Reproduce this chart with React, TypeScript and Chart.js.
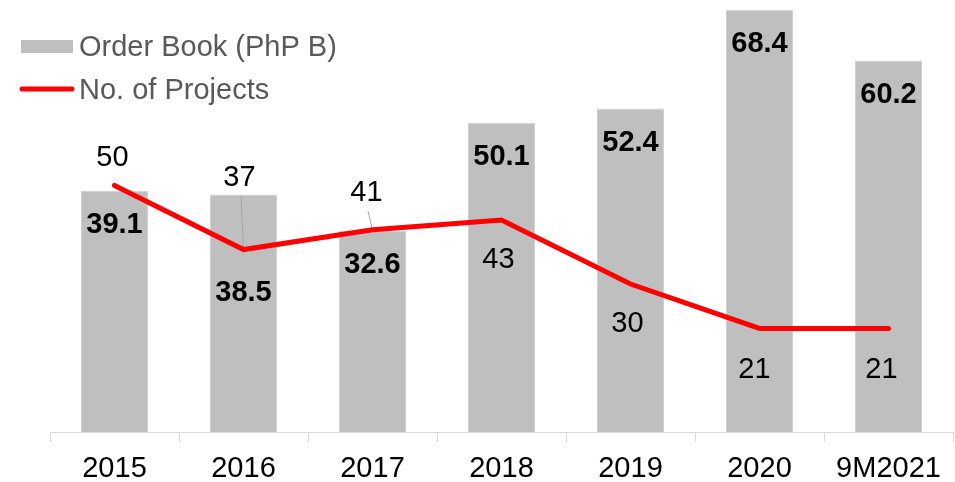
import React, { useEffect, useRef } from "react";
import { Chart, registerables } from "chart.js";

Chart.register(...registerables);

const categories = ["2015", "2016", "2017", "2018", "2019", "2020", "9M2021"];
const orderBook = [39.1, 38.5, 32.6, 50.1, 52.4, 68.4, 60.2];
const projects = [50, 37, 41, 43, 30, 21, 21];

const seriesNames = ["Order Book (PhP B)", "No. of Projects"];

// label placement (relative to the mark, in px)
const barLabelDy = [32, 96, 32, 32, 32, 32, 32];
const lineLabelDx = [-2, -4, -6, -3, -3, -5, -7];
const lineLabelDy = [-30, -74, -39, 38, 38, 39, 39];
const leaderLines = [false, true, true, false, false, false, false];

const FONT = "'Liberation Sans', Arial, sans-serif";
const BAR_COLOR = "#bfbfbf";
const LINE_COLOR = "#ff0000";

const labelsPlugin = {
  id: "customLabels",
  afterDatasetDraw(chart: any, args: any) {
    if (args.index !== 0) return;
    const ctx = chart.ctx;
    const lineMeta = chart.getDatasetMeta(1);
    ctx.save();
    ctx.strokeStyle = "#a6a6a6";
    ctx.lineWidth = 1;
    lineMeta.data.forEach((pt: any, i: number) => {
      if (!leaderLines[i]) return;
      const cx = pt.x + lineLabelDx[i];
      const cy = pt.y + lineLabelDy[i];
      ctx.beginPath();
      ctx.moveTo(cx + 1.5, cy + 20);
      ctx.lineTo(pt.x, pt.y);
      ctx.stroke();
    });
    ctx.restore();
  },
  afterDatasetsDraw(chart: any) {
    const ctx = chart.ctx;
    const barMeta = chart.getDatasetMeta(0);
    const lineMeta = chart.getDatasetMeta(1);
    ctx.save();
    ctx.textAlign = "center";
    ctx.textBaseline = "alphabetic";
    ctx.fillStyle = "#000000";
    ctx.font = `bold 29px ${FONT}`;
    barMeta.data.forEach((bar: any, i: number) => {
      ctx.fillText(orderBook[i].toFixed(1), bar.x, bar.y + barLabelDy[i] + 10.4);
    });
    ctx.font = `29px ${FONT}`;
    lineMeta.data.forEach((pt: any, i: number) => {
      const cx = pt.x + lineLabelDx[i];
      const cy = pt.y + lineLabelDy[i];
      ctx.fillText(String(projects[i]), cx, cy + 10.4);
    });

    // legend
    ctx.textAlign = "left";
    ctx.fillStyle = BAR_COLOR;
    ctx.fillRect(21, 40, 52, 13);
    ctx.strokeStyle = LINE_COLOR;
    ctx.lineWidth = 5;
    ctx.lineCap = "round";
    ctx.beginPath();
    ctx.moveTo(22, 89);
    ctx.lineTo(72, 89);
    ctx.stroke();
    ctx.fillStyle = "#595959";
    ctx.font = `29px ${FONT}`;
    ctx.fillText(seriesNames[0], 79, 55.5);
    ctx.fillText(seriesNames[1], 79, 98.5);
    ctx.restore();
  },
};

export default function App() {
  const ref = useRef<HTMLCanvasElement | null>(null);

  useEffect(() => {
    if (!ref.current) return;
    const chart = new Chart(ref.current, {
      type: "bar",
      data: {
        labels: categories,
        datasets: [
          {
            type: "bar",
            label: seriesNames[0],
            data: orderBook,
            backgroundColor: BAR_COLOR,
            borderColor: "#d0d0d0",
            borderWidth: 1,
            yAxisID: "y",
            categoryPercentage: 1,
            barPercentage: 0.52,
            order: 1,
          },
          {
            type: "line",
            label: seriesNames[1],
            data: projects,
            borderColor: LINE_COLOR,
            backgroundColor: LINE_COLOR,
            borderWidth: 5,
            borderCapStyle: "round",
            borderJoinStyle: "miter",
            pointRadius: 0,
            tension: 0,
            yAxisID: "y1",
            order: 0,
          },
        ],
      } as any,
      options: {
        animation: false,
        responsive: false,
        maintainAspectRatio: false,
        layout: { padding: { left: 50, right: 2, top: 0, bottom: 0 } },
        plugins: {
          legend: { display: false },
          tooltip: { enabled: false },
        },
        scales: {
          x: {
            grid: {
              offset: true,
              drawOnChartArea: false,
              tickLength: 10,
              color: "#d9d9d9",
              lineWidth: 1,
            },
            border: { color: "#d9d9d9", width: 1 },
            ticks: {
              font: { family: FONT, size: 29 },
              color: "#000000",
              padding: 10,
              maxRotation: 0,
              autoSkip: false,
            },
            afterFit: (s: any) => {
              s.height = 50;
            },
          },
          y: { display: false, min: 0, max: 70 },
          y1: { display: false, min: 0, max: 87.6 },
        },
      } as any,
      plugins: [labelsPlugin],
    });
    return () => chart.destroy();
  }, []);

  return (
    <div style={{ position: "absolute", left: 0, top: 0, width: 955, height: 482, background: "#fff" }}>
      <canvas ref={ref} width={955} height={482} style={{ display: "block", width: 955, height: 482 }} />
    </div>
  );
}
